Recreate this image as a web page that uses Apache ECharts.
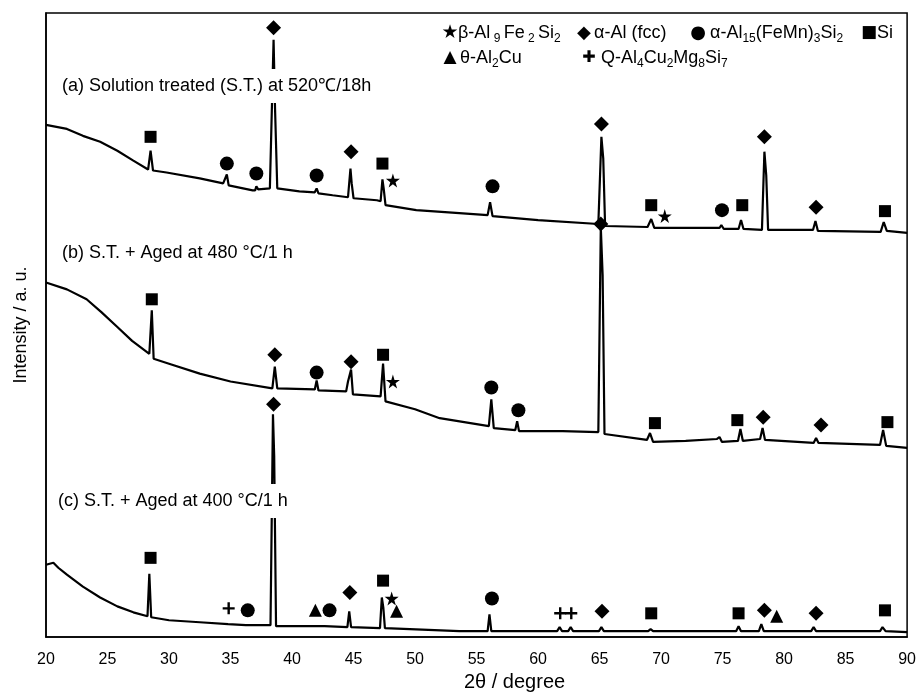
<!DOCTYPE html>
<html>
<head>
<meta charset="utf-8">
<script src="https://cdn.jsdelivr.net/npm/echarts@6/dist/echarts.min.js"></script>
<style>
  html, body { margin: 0; padding: 0; background: #fff; }
  #chart { width: 919px; height: 697px; }
</style>
</head>
<body>
<div id="chart"></div>
<script>
  // XRD patterns, [2theta, intensity a.u.] (offset curves)
  var curveA = [
    [20.0, 517], [21.7, 513], [23.0, 506], [24.4, 500], [25.8, 491], [27.1, 481], [28.3, 472],
    [28.5, 491], [28.7, 471], [29.8, 469], [32.5, 463], [34.4, 458], [34.55, 457], [34.7, 467],
    [34.85, 456], [36.8, 451], [37.0, 451], [37.1, 455], [37.25, 452], [38.2, 453], [38.5, 603],
    [38.62, 533], [38.8, 453], [40.6, 450], [41.85, 449], [42.0, 453], [42.15, 448], [43.3, 446],
    [44.55, 444], [44.75, 473], [44.85, 458], [45.0, 443], [46.9, 441], [47.2, 440], [47.35, 462],
    [47.45, 453], [47.6, 436], [50.1, 431], [53.6, 428], [55.9, 426], [56.1, 439], [56.3, 425],
    [60.0, 421], [64.9, 417], [65.15, 505], [65.3, 483], [65.45, 415], [68.9, 414], [69.2, 422],
    [69.45, 413], [72.0, 413], [74.75, 413], [74.9, 416], [75.1, 412], [76.3, 412], [76.5, 421],
    [76.7, 412], [78.2, 411], [78.4, 490], [78.55, 466], [78.7, 411], [82.35, 411], [82.55, 420],
    [82.75, 410], [87.85, 409], [88.1, 419], [88.35, 410], [90.0, 408]
  ];
  var curveB = [
    [20.0, 358], [21.7, 351], [23.3, 341], [24.5, 328], [25.8, 313], [27.0, 299], [28.4, 286],
    [28.6, 330], [28.75, 281], [30.0, 276], [32.5, 266], [35.0, 258], [38.4, 251], [38.6, 273],
    [38.8, 251], [41.85, 250], [42.0, 259], [42.15, 249], [44.4, 248], [44.55, 258], [44.8, 270],
    [44.95, 245], [47.2, 243], [47.4, 276], [47.6, 238], [50.0, 230], [52.0, 221], [54.0, 217],
    [56.0, 213], [56.2, 240], [56.4, 211], [58.15, 209], [58.3, 218], [58.45, 208], [62.0, 208],
    [64.9, 207], [65.1, 414], [65.25, 365], [65.4, 205], [68.85, 199], [69.1, 206], [69.35, 197],
    [72.0, 198], [74.55, 200], [74.75, 202], [74.95, 197], [76.25, 198], [76.45, 210], [76.65, 198],
    [78.05, 200], [78.25, 211], [78.45, 199], [82.4, 196], [82.6, 201], [82.8, 196], [87.8, 194],
    [88.05, 209], [88.3, 193], [90.0, 191]
  ];
  var curveC = [
    [20.0, 73], [20.6, 75], [21.0, 70], [21.7, 63], [23.0, 51], [24.4, 40], [25.8, 31], [27.1, 25],
    [28.25, 21], [28.4, 64], [28.55, 20], [30.0, 17], [32.5, 15], [34.8, 13], [36.25, 12], [36.4, 14],
    [36.55, 12], [38.25, 12], [38.45, 225], [38.55, 183], [38.7, 11], [41.75, 11], [41.9, 13],
    [42.05, 11], [42.35, 11], [42.5, 13], [42.65, 11], [44.5, 10], [44.65, 26], [44.8, 10],
    [47.15, 9], [47.3, 40], [47.42, 30], [47.55, 9], [53.6, 6], [55.9, 6], [56.05, 23], [56.2, 6],
    [61.55, 6], [61.75, 10], [61.95, 6], [62.45, 6], [62.65, 10], [62.85, 6], [64.95, 6],
    [65.15, 10], [65.35, 6], [68.95, 6], [69.15, 8], [69.35, 6], [76.1, 6], [76.3, 11], [76.5, 6],
    [77.95, 6], [78.15, 13], [78.35, 6], [82.2, 6], [82.4, 10], [82.6, 6], [87.8, 6], [88.0, 10],
    [88.25, 6], [90.0, 5]
  ];

  // phase markers [2theta, height]
  var siMarks = [[28.5, 505], [47.35, 478], [69.2, 436], [76.6, 436], [88.2, 430],
    [28.6, 341], [47.4, 285], [69.5, 216], [76.2, 219], [88.4, 217],
    [28.5, 80], [47.4, 57], [69.2, 24], [76.3, 24], [88.2, 27]];
  var alMarks = [[38.5, 615], [44.8, 490], [65.15, 518], [78.4, 505], [82.6, 434],
    [38.6, 285], [44.8, 278], [65.1, 417], [78.3, 222], [83.0, 214],
    [38.5, 235], [44.7, 45], [65.2, 26], [78.4, 27], [82.6, 24]];
  var alfemnMarks = [[34.7, 478], [37.1, 468], [42.0, 466], [56.3, 455], [74.95, 431],
    [42.0, 267], [56.2, 252], [58.4, 229],
    [36.4, 27], [43.05, 27], [56.25, 39]];
  var betaMarks = [[48.2, 461], [70.3, 425], [48.2, 258], [48.1, 39]];
  var thetaMarks = [[41.9, 27], [48.5, 26], [79.4, 21]];
  var qMarks = [[34.85, 29], [61.8, 24], [62.7, 24]];

  var xTicks = [20, 25, 30, 35, 40, 45, 50, 55, 60, 65, 70, 75, 80, 85, 90];

  var starPath = 'path://M50,0 L61,35 L98,35 L68,57 L79,91 L50,70 L21,91 L32,57 L2,35 L39,35 Z';
  var plusPath = 'path://M40,0H60V40H100V60H60V100H40V60H0V40H40Z';

  var chart = echarts.init(document.getElementById('chart'));

  function lineSeries(name, data) {
    return {
      name: name, type: 'line', data: data, showSymbol: false, smooth: false,
      lineStyle: { color: '#000', width: 2.2 }, z: 2
    };
  }
  function markSeries(name, data, symbol, size) {
    return {
      name: name, type: 'scatter', data: data, symbol: symbol, symbolSize: size,
      itemStyle: { color: '#000', opacity: 1 }, z: 3
    };
  }

  var sub = { fontSize: 12, lineHeight: 12, verticalAlign: 'bottom', fontFamily: 'Liberation Sans', fill: '#000' };
  var nor = { fontSize: 18, lineHeight: 24, fontFamily: 'Liberation Sans', fill: '#000' };
  function rich(x, y, text) {
    return {
      type: 'text', left: x, top: y, z: 100,
      style: { text: text, rich: { n: nor, s: sub }, fill: '#000' }
    };
  }
  function glyph(x, y, ch, size) {
    return {
      type: 'text', x: x, y: y, z: 100,
      style: { text: ch, fontSize: size, fontFamily: 'DejaVu Sans', fill: '#000', align: 'center', verticalAlign: 'middle' }
    };
  }
  function curveLabel(x, y, text) {
    return {
      type: 'text', left: x, top: y, z: 100,
      style: {
        text: text, fontSize: 18, fontFamily: 'Liberation Sans', fill: '#000',
        backgroundColor: '#fff', padding: [8, 3]
      }
    };
  }

  var option = {
    animation: false,
    backgroundColor: '#fff',
    grid: { left: 46, top: 13, width: 862, height: 630, show: true, borderColor: '#000', borderWidth: 1.5 },
    xAxis: {
      type: 'value', min: 20, max: 90, interval: 5,
      axisLine: { lineStyle: { color: '#000', width: 1.5 } },
      axisTick: { show: false },
      splitLine: { show: false },
      axisLabel: {
        color: '#000', fontSize: 16, fontFamily: 'Liberation Sans', margin: 14,
        customValues: xTicks
      },
      name: '2θ / degree', nameLocation: 'middle', nameGap: 30,
      nameTextStyle: { color: '#000', fontSize: 20, fontFamily: 'Liberation Sans', padding: [0, 0, 0, 76] }
    },
    yAxis: {
      type: 'value', min: 0, max: 630,
      axisLine: { show: true, lineStyle: { color: '#000', width: 1.5 } },
      axisTick: { show: false },
      axisLabel: { show: false },
      splitLine: { show: false },
      name: 'Intensity / a. u.', nameLocation: 'middle', nameGap: 16,
      nameTextStyle: { color: '#000', fontSize: 18, fontFamily: 'Liberation Sans' }
    },
    series: [
      lineSeries('(a) Solution treated', curveA),
      lineSeries('(b) S.T. + Aged at 480', curveB),
      lineSeries('(c) S.T. + Aged at 400', curveC),
      markSeries('Si', siMarks, 'rect', 12),
      markSeries('α-Al (fcc)', alMarks, 'diamond', 15),
      markSeries('α-Al15(FeMn)3Si2', alfemnMarks, 'circle', 14),
      markSeries('β-Al9Fe2Si2', betaMarks, starPath, 14),
      markSeries('θ-Al2Cu', thetaMarks, 'triangle', 13),
      markSeries('Q-Al4Cu2Mg8Si7', qMarks, plusPath, 12)
    ],
    graphic: [
      curveLabel(59, 69, '(a) Solution treated (S.T.) at 520℃/18h'),
      curveLabel(59, 236, '(b) S.T. + Aged at 480 °C/1 h'),
      curveLabel(55, 484, '(c) S.T. + Aged at 400 °C/1 h'),
      // legend
      glyph(450, 33, '★', 19),
      rich(458, 24, '{n|β-Al}{s| 9 }{n|Fe}{s| 2 }{n|Si}{s|2}'),
      glyph(584, 33, '◆', 18),
      rich(594, 24, '{n|α-Al (fcc)}'),
      glyph(698, 33, '●', 18),
      rich(710, 24, '{n|α-Al}{s|15}{n|(FeMn)}{s|3}{n|Si}{s|2}'),
      glyph(869, 33, '■', 17),
      rich(877, 24, '{n|Si}'),
      glyph(450, 58, '▲', 17),
      rich(460, 49, '{n|θ-Al}{s|2}{n|Cu}'),
      glyph(589, 58, '✚', 16),
      rich(601, 49, '{n|Q-Al}{s|4}{n|Cu}{s|2}{n|Mg}{s|8}{n|Si}{s|7}')
    ]
  };

  chart.setOption(option);
</script>
</body>
</html>
